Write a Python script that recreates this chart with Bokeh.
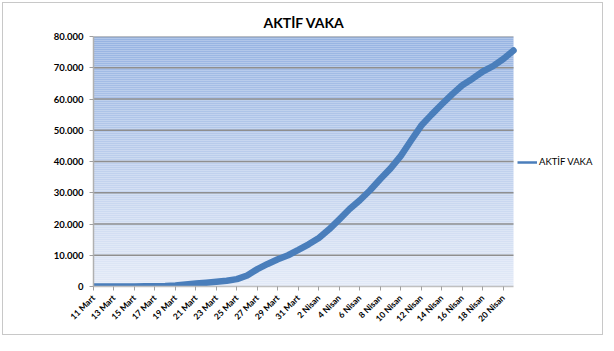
import numpy as np
from bokeh.plotting import figure
from bokeh.models import Range1d, FixedTicker, Legend, LegendItem
from bokeh.embed import file_html
from bokeh.resources import INLINE

# ---------------- data ----------------
dates = ["11 Mart", "12 Mart", "13 Mart", "14 Mart", "15 Mart", "16 Mart",
         "17 Mart", "18 Mart", "19 Mart", "20 Mart", "21 Mart", "22 Mart",
         "23 Mart", "24 Mart", "25 Mart", "26 Mart", "27 Mart", "28 Mart",
         "29 Mart", "30 Mart", "31 Mart",
         "1 Nisan", "2 Nisan", "3 Nisan", "4 Nisan", "5 Nisan", "6 Nisan",
         "7 Nisan", "8 Nisan", "9 Nisan", "10 Nisan", "11 Nisan", "12 Nisan",
         "13 Nisan", "14 Nisan", "15 Nisan", "16 Nisan", "17 Nisan",
         "18 Nisan", "19 Nisan", "20 Nisan", "21 Nisan"]
active = [1, 1, 5, 6, 18, 47, 97, 189, 355, 661, 926, 1206, 1492, 1828,
          2350, 3530, 5560, 7220, 8700, 10000, 11700, 13500, 15500, 18300,
          21500, 24800, 27600, 30800, 34400, 37800, 41800, 46700, 51500,
          55000, 58300, 61500, 64400, 66500, 68800, 70500, 72800, 75500]
series_name = "AKTİF VAKA"
title_text = "AKTİF VAKA"
y_ticks = [0, 10000, 20000, 30000, 40000, 50000, 60000, 70000, 80000]
y_tick_labels = ["0", "10.000", "20.000", "30.000", "40.000", "50.000",
                 "60.000", "70.000", "80.000"]
x_label_step = 2

idx = list(range(len(dates)))
x_last = len(dates) - 1

# ---------------- layout ----------------
W, H = 601, 333
b_left, b_right, b_top, b_bottom = 90, 4, 33, 50
plot_area_px = 420                      # width of the blue plot area
frame_px = W - b_left - b_right
x_end = x_last * frame_px / plot_area_px  # frame also hosts the legend area

p = figure(width=W, height=H, output_backend="svg", toolbar_location=None,
           x_range=Range1d(0, x_end), y_range=Range1d(y_ticks[0], y_ticks[-1]),
           min_border_left=b_left, min_border_right=b_right,
           min_border_top=b_top, min_border_bottom=b_bottom)
p.styles = {"border": "1px solid #c8c8c8", "margin": "2px 0 0 2px"}
p.outline_line_color = None
p.border_fill_color = "white"
p.background_fill_color = "white"

# gradient plot-area background (decoration)
n = 125
edges = np.linspace(y_ticks[0], y_ticks[-1], n + 1)
top_rgb = np.array([150, 179, 226])
bot_rgb = np.array([227, 234, 247])
cols = []
for i in range(n):
    f = (i + 0.5) / n
    c = bot_rgb + (top_rgb - bot_rgb) * f
    cols.append("#%02x%02x%02x" % tuple(int(round(v)) for v in c))
p.quad(left=0, right=x_last, bottom=edges[:-1], top=edges[1:],
       fill_color=cols, line_color=None, level="image")

# horizontal gridlines limited to the plot area
p.xgrid.visible = False
p.ygrid.visible = False
p.segment(x0=0, x1=x_last, y0=y_ticks[1:], y1=y_ticks[1:],
          line_color="#8f8f8f", line_width=1.5)

# legend proxy line (hidden under the main line)
rl = p.line(idx, active, line_color="#4a7ebb", line_width=2.5)
r = p.line(idx, active, line_color="#4a7ebb", line_width=6.5,
           line_cap="round", line_join="round")

# title
p.title.text = title_text
p.title.align = "left"
p.title.offset = 170
p.title.standoff = 12
p.title.text_font = "Lato"
p.title.text_font_size = "14px"
p.title.text_font_style = "bold"
p.title.text_color = "#000000"

# y axis
ya = p.yaxis[0]
ya.ticker = FixedTicker(ticks=y_ticks)
ya.major_label_overrides = {t: l for t, l in zip(y_ticks, y_tick_labels)}
ya.axis_line_color = "#b0b0b0"
ya.axis_line_width = 1.5
ya.major_tick_line_color = "#a0a0a0"
ya.major_tick_out = 4
ya.major_tick_in = 0
ya.minor_tick_line_color = None
ya.major_label_standoff = 6
ya.major_label_text_font = "Lato"
ya.major_label_text_font_style = "bold"
ya.major_label_text_font_size = "9.5px"
ya.major_label_text_color = "#000000"

# x axis
xa = p.xaxis[0]
xt = idx[0:x_last:x_label_step]
xa.ticker = FixedTicker(ticks=xt)
xa.bounds = (0, x_last)
xa.major_label_overrides = {i: dates[i] for i in xt}
xa.major_label_orientation = np.pi / 4
xa.axis_line_color = "#c0c0c0"
xa.axis_line_width = 1.5
xa.major_tick_line_color = "#a0a0a0"
xa.major_tick_out = 4
xa.major_tick_in = 0
xa.minor_tick_line_color = None
xa.major_label_standoff = 6
xa.major_label_text_font = "Lato"
xa.major_label_text_font_style = "bold"
xa.major_label_text_font_size = "8.5px"
xa.major_label_text_color = "#000000"

# legend (right of the blue plot area)
legend = Legend(items=[LegendItem(label=series_name, renderers=[rl])],
                location=(plot_area_px + 4, 119), glyph_width=20, glyph_height=10,
                label_text_font="Lato", label_text_font_size="9.5px",
                label_text_color="#000000",
                label_standoff=2, padding=0, margin=0, spacing=0,
                border_line_color=None, background_fill_alpha=0)
p.add_layout(legend)

open("out.html", "w").write(file_html(p, INLINE))
